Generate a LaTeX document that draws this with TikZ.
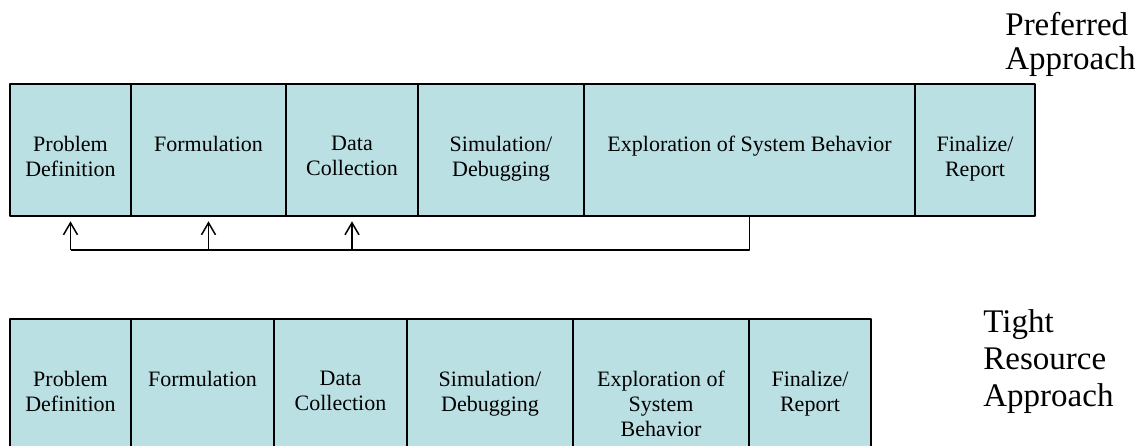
\documentclass[tikz,border=0pt]{standalone}
\usepackage{fontspec}
\setmainfont{Liberation Serif}
\usetikzlibrary{arrows.meta}
\definecolor{stagefill}{RGB}{187,224,227}
\tikzset{
  stage/.style={draw=black, line width=0.8pt, fill=stagefill, inner sep=0pt},
  stagetext/.style={anchor=north, align=center, inner sep=0pt, yshift=-26.4pt,
    font=\fontsize{11}{12.5}\selectfont},
  approach/.style={anchor=north west, align=left, inner sep=0pt},
  fbline/.style={line width=0.75pt},
  fbarrow/.style={-{Straight Barb[length=6pt,width=7pt]}, line width=0.75pt}
}
\begin{document}
\begin{tikzpicture}[x=0.5pt, y=-0.5pt, line join = round]
\useasboundingbox (0,0) rectangle (1141,445);
\clip (0,0) rectangle (1141,445);

% preferred approach
\node[stage, minimum width=60.5pt, minimum height=66pt, label={[stagetext]north:Problem\\Definition}] (p1) at (70.5,150) {};
\node[stage, minimum width=77.5pt, minimum height=66pt, label={[stagetext]north:Formulation}] (p2) at (208.5,150) {};
\node[stage, minimum width=66pt, minimum height=66pt, label={[stagetext]north:Data\\Collection}] (p3) at (352,150) {};
\node[stage, minimum width=83pt, minimum height=66pt, label={[stagetext]north:Simulation/\\Debugging}] (p4) at (501,150) {};
\node[stage, minimum width=165.5pt, minimum height=66pt, label={[stagetext]north:Exploration of System Behavior}] (p5) at (749.5,150) {};
\node[stage, minimum width=60pt, minimum height=66pt, label={[stagetext]north:Finalize/\\Report}] (p6) at (975,150) {};
\node[approach, font=\fontsize{16.5}{17}\selectfont] (pref) at (1005,12) {Preferred\\Approach};

\coordinate (fb) at (749.5,250);
\draw[fbline] (p5.south) -- (fb) -- (fb -| p1.south);
\foreach \i in {p1,p2,p3}
    \draw[fbarrow] (fb -| \i.south) -- ([yshift=-2.25pt]\i.south);

% tight resource approach
\node[stage, minimum width=60.5pt, minimum height=71pt, label={[stagetext]north:Problem\\Definition}] (t1) at (70.5,390) {};
\node[stage, minimum width=71.5pt, minimum height=71pt, label={[stagetext]north:Formulation}] (t2) at (202.5,390) {};
\node[stage, minimum width=66.5pt, minimum height=71pt, label={[stagetext]north:Data\\Collection}] (t3) at (340.5,390) {};
\node[stage, minimum width=83pt, minimum height=71pt, label={[stagetext]north:Simulation/\\Debugging}] (t4) at (490,390) {};
\node[stage, minimum width=88pt, minimum height=71pt, label={[stagetext]north:Exploration of\\System\\Behavior}] (t5) at (661,390) {};
\node[stage, minimum width=61pt, minimum height=71pt, label={[stagetext]north:Finalize/\\Report}] (t6) at (810,390) {};
\node[approach, font=\fontsize{16.5}{18.5}\selectfont] (tight) at (983,309) {Tight\\Resource\\Approach};
\end{tikzpicture}
\end{document}
